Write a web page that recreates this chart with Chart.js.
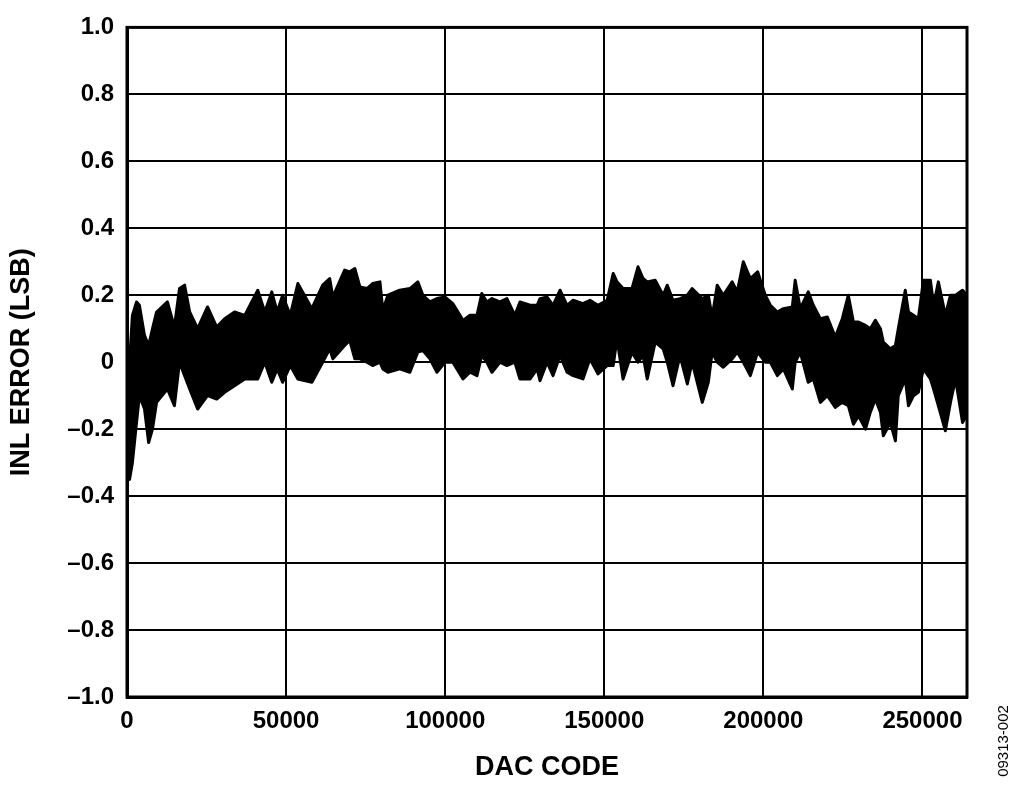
<!DOCTYPE html>
<html lang="en">
<head>
    <meta charset="UTF-8">
    <title>INL Error vs DAC Code</title>
    <style>
        html, body {
            margin: 0;
            padding: 0;
            background: white;
        }
        #wrap {
            width: 1024px;
            height: 787px;
        }
    </style>
    <script src="https://cdn.jsdelivr.net/npm/chart.js"></script>
</head>
<body>
    <div id="wrap"><canvas id="myChart" width="1024" height="787"></canvas></div>
    <script>
        const dacCodes = [
            200, 800, 1700, 3000, 3900, 5500, 6800, 8000, 9300, 12700,
            14900, 16500, 18100, 19700, 22200, 25300, 28200, 30700, 33800, 37000,
            41100, 43300, 45500, 47200, 48900, 51300, 53700, 58100, 61500, 63700, 64700, 68400, 70000,
            71600, 73200, 75400, 77200, 79500, 80400, 82000, 85700, 88900, 91400,
            93000, 95200, 97400, 99900, 102400, 105600, 107800, 110000, 111500, 113100,
            114700, 117200, 119400, 121900, 123500, 126700, 128900, 129800, 132000, 133900,
            136100, 138300, 140200, 143300, 145500, 148000, 150900, 152800, 154000, 155900,
            158700, 160600, 162200, 163500, 166000, 168500, 169800, 171600, 173800, 176100,
            177600, 180800, 182700, 183900, 185500, 187400, 190200, 191800, 193700, 195900,
            198200, 200600, 202200, 204400, 206300, 209100, 210000, 211600, 214100, 215700,
            217900, 220100, 222600, 224800, 226700, 228300, 229900, 232100, 233600, 235200,
            236800, 237700, 239900, 241500, 242400, 244600, 245600, 247200, 248700, 250300,
            252500, 253500, 255000, 257200, 258800, 260400, 262600, 263900
        ];
        // upper edge of the INL trace (LSB)
        const inlHigh = [
            -0.05, 0.0, 0.14, 0.18, 0.17, 0.08, 0.05, 0.10, 0.15, 0.18,
            0.105, 0.22, 0.23, 0.15, 0.10, 0.165, 0.105, 0.13, 0.15, 0.14,
            0.215, 0.15, 0.21, 0.15, 0.20, 0.14, 0.235, 0.16, 0.23, 0.25, 0.195, 0.275, 0.27,
            0.28, 0.225, 0.22, 0.235, 0.24, 0.155, 0.20, 0.215, 0.22, 0.24,
            0.20, 0.18, 0.19, 0.195, 0.175, 0.125, 0.14, 0.14, 0.205, 0.18,
            0.19, 0.18, 0.19, 0.14, 0.18, 0.17, 0.17, 0.19, 0.195, 0.17,
            0.215, 0.17, 0.185, 0.175, 0.185, 0.17, 0.185, 0.265, 0.24, 0.22,
            0.22, 0.285, 0.25, 0.24, 0.245, 0.20, 0.23, 0.185, 0.19, 0.20,
            0.22, 0.19, 0.20, 0.135, 0.23, 0.20, 0.24, 0.21, 0.30, 0.25,
            0.27, 0.20, 0.17, 0.15, 0.16, 0.165, 0.245, 0.16, 0.21, 0.17,
            0.13, 0.135, 0.075, 0.13, 0.20, 0.12, 0.12, 0.11, 0.10, 0.125,
            0.10, 0.06, 0.04, 0.05, 0.10, 0.215, 0.15, 0.14, 0.13, 0.245,
            0.245, 0.17, 0.24, 0.14, 0.20, 0.20, 0.215, 0.20
        ];
        // lower edge of the INL trace (LSB)
        const inlLow = [
            -0.33, -0.35, -0.30, -0.18, -0.10, -0.14, -0.24, -0.20, -0.12, -0.08,
            -0.13, 0.00, -0.04, -0.08, -0.14, -0.10, -0.11, -0.09, -0.07, -0.05,
            -0.05, 0.00, -0.06, -0.02, -0.06, -0.01, -0.05, -0.06, 0.00, 0.04, 0.01, 0.05, 0.065,
            0.01, 0.01, 0.00, -0.01, 0.00, -0.02, -0.03, -0.02, -0.03, 0.03,
            0.035, 0.01, -0.03, 0.00, 0.00, -0.05, -0.03, -0.04, 0.02, 0.00,
            -0.03, 0.00, -0.01, 0.00, -0.05, -0.05, -0.02, -0.055, 0.00, -0.04,
            0.02, -0.03, -0.04, -0.05, 0.01, -0.035, -0.01, -0.01, 0.07, -0.05,
            0.03, 0.00, 0.02, -0.05, 0.06, 0.04, 0.00, -0.07, 0.02, -0.065,
            0.00, -0.12, -0.06, 0.03, 0.00, -0.015, 0.01, 0.03, 0.00, -0.04,
            0.03, 0.00, 0.00, -0.04, -0.02, -0.08, 0.00, 0.03, -0.06, -0.05,
            -0.12, -0.10, -0.135, -0.12, -0.13, -0.185, -0.16, -0.20, -0.15, -0.11,
            -0.15, -0.22, -0.18, -0.235, -0.10, -0.05, -0.13, -0.10, -0.09, -0.02,
            -0.05, -0.08, -0.13, -0.205, -0.12, -0.05, -0.18, -0.16
        ];
        const xTicks = [0, 50000, 100000, 150000, 200000, 250000];
        const yTicks = [-1.0, -0.8, -0.6, -0.4, -0.2, 0, 0.2, 0.4, 0.6, 0.8, 1.0];

        const fontFamily = "'Liberation Sans', Arial, sans-serif";

        // frame round the plot area + the figure code at the right edge
        const framePlugin = {
            id: 'frame',
            afterDraw(chart) {
                const { ctx, chartArea: a } = chart;
                ctx.save();
                ctx.strokeStyle = '#000';
                ctx.lineWidth = 3;
                ctx.strokeRect(a.left, a.top, a.right - a.left, a.bottom - a.top);
                ctx.translate(1004, 741);
                ctx.rotate(-Math.PI / 2);
                ctx.fillStyle = '#000';
                ctx.font = '15px ' + fontFamily;
                ctx.textAlign = 'center';
                ctx.textBaseline = 'middle';
                ctx.fillText('09313-002', 0, 0);
                ctx.restore();
            }
        };

        const ctx = document.getElementById('myChart').getContext('2d');
        const myChart = new Chart(ctx, {
            type: 'line',
            data: {
                datasets: [{
                    label: 'INL high',
                    data: dacCodes.map((c, i) => ({ x: c, y: inlHigh[i] })),
                    borderColor: '#000',
                    backgroundColor: '#000',
                    borderWidth: 3,
                    borderJoinStyle: 'round',
                    borderCapStyle: 'round',
                    pointRadius: 0,
                    fill: '+1'
                }, {
                    label: 'INL low',
                    data: dacCodes.map((c, i) => ({ x: c, y: inlLow[i] })),
                    borderColor: '#000',
                    backgroundColor: '#000',
                    borderWidth: 3,
                    borderJoinStyle: 'round',
                    borderCapStyle: 'round',
                    pointRadius: 0,
                    fill: false
                }]
            },
            options: {
                responsive: false,
                animation: false,
                layout: {
                    padding: { top: 27, right: 57, bottom: 0, left: 0 }
                },
                plugins: {
                    legend: { display: false },
                    tooltip: { enabled: false }
                },
                scales: {
                    x: {
                        type: 'linear',
                        min: 0,
                        max: 264000,
                        afterBuildTicks: s => { s.ticks = xTicks.map(v => ({ value: v })); },
                        afterFit: s => { s.height = 90; },
                        grid: { color: '#000', lineWidth: 2, drawTicks: false },
                        border: { color: '#000', width: 3 },
                        ticks: {
                            color: '#000',
                            padding: 10,
                            maxRotation: 0,
                            font: { family: fontFamily, size: 24, weight: 'bold' },
                            callback: v => String(v)
                        },
                        title: {
                            display: true,
                            text: 'DAC CODE',
                            color: '#000',
                            padding: { top: 6, bottom: 3 },
                            font: { family: fontFamily, size: 27, weight: 'bold' }
                        }
                    },
                    y: {
                        min: -1,
                        max: 1,
                        afterBuildTicks: s => { s.ticks = yTicks.map(v => ({ value: v })); },
                        afterFit: s => { s.width = 127; },
                        grid: { color: '#000', lineWidth: 2, drawTicks: false },
                        border: { color: '#000', width: 3 },
                        ticks: {
                            color: '#000',
                            padding: 13,
                            font: { family: fontFamily, size: 24, weight: 'bold' },
                            callback: v => v === 0 ? '0' : (v < 0 ? '\u2013' : '') + Math.abs(v).toFixed(1)
                        },
                        title: {
                            display: true,
                            text: 'INL ERROR (LSB)',
                            color: '#000',
                            padding: { top: 5, bottom: 0 },
                            font: { family: fontFamily, size: 27, weight: 'bold' }
                        }
                    }
                }
            },
            plugins: [framePlugin]
        });
    </script>
</body>
</html>
